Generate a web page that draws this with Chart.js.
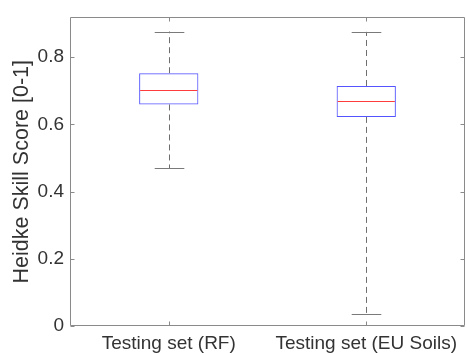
<!DOCTYPE html>
<html>
<head>
<meta charset="utf-8">
<script src="https://cdn.jsdelivr.net/npm/chart.js@4.4.0/dist/chart.umd.min.js"></script>
<style>
html,body{margin:0;padding:0;background:#fff;}
canvas{display:block;}
</style>
</head>
<body>
<canvas id="c" width="467" height="353"></canvas>
<script>
const categories = ['Testing set (RF)', 'Testing set (EU Soils)'];
const whiskerLow  = [0.470, 0.037];
const q1          = [0.659, 0.622];
const median      = [0.701, 0.668];
const q3          = [0.752, 0.714];
const whiskerHigh = [0.876, 0.875];
const yTicks      = [0, 0.2, 0.4, 0.6, 0.8];
const yTitle      = 'Heidke Skill Score [0-1]';

const FONT = "'Liberation Sans', Arial, Helvetica, sans-serif";
const FS = 19;
const FS_TITLE = 21.5;
const TEXT = '#333333';
const FRAME = '#8a8a8a';

const boxplotPlugin = {
  id: 'boxplot',
  afterDatasetsDraw(chart) {
    const ctx = chart.ctx, y = chart.scales.y;
    const meta = chart.getDatasetMeta(0);
    ctx.save();
    categories.forEach((c, i) => {
      const bar = meta.data[i];
      const cx = Math.round(bar.x) + 0.5, half = bar.width / 2, capHalf = half / 2;
      const yHi = y.getPixelForValue(whiskerHigh[i]);
      const yLo = y.getPixelForValue(whiskerLow[i]);
      const yQ1 = y.getPixelForValue(q1[i]);
      const yQ3 = y.getPixelForValue(q3[i]);
      const yMed = y.getPixelForValue(median[i]);
      ctx.strokeStyle = '#6e6e6e';
      ctx.lineWidth = 1;
      ctx.setLineDash([6, 4]);
      ctx.beginPath();
      ctx.moveTo(cx, yQ3); ctx.lineTo(cx, yHi);
      ctx.moveTo(cx, yQ1); ctx.lineTo(cx, yLo);
      ctx.stroke();
      ctx.setLineDash([]);
      ctx.strokeStyle = '#7a7a7a';
      ctx.beginPath();
      ctx.moveTo(cx - capHalf, Math.round(yHi) + 0.5); ctx.lineTo(cx + capHalf, Math.round(yHi) + 0.5);
      ctx.moveTo(cx - capHalf, Math.round(yLo) + 0.5); ctx.lineTo(cx + capHalf, Math.round(yLo) + 0.5);
      ctx.stroke();
      ctx.strokeStyle = 'rgb(255,60,60)';
      ctx.beginPath();
      ctx.moveTo(bar.x - half + 1, Math.round(yMed) + 0.5); ctx.lineTo(bar.x + half - 1, Math.round(yMed) + 0.5);
      ctx.stroke();
    });
    ctx.restore();
  },
  afterDraw(chart) {
    const ctx = chart.ctx, a = chart.chartArea, x = chart.scales.x, y = chart.scales.y;
    const L = Math.round(a.left) + 0.5, R = Math.round(a.right) - 0.5;
    const T = Math.round(a.top) + 0.5, B = Math.round(a.bottom) - 0.5;
    ctx.save();
    ctx.strokeStyle = FRAME;
    ctx.lineWidth = 1;
    ctx.beginPath();
    ctx.rect(L, T, R - L, B - T);
    const tl = 4;
    y.ticks.forEach((t, i) => {
      const py = Math.round(y.getPixelForTick(i)) + 0.5;
      ctx.moveTo(L, py); ctx.lineTo(L + tl, py);
      ctx.moveTo(R, py); ctx.lineTo(R - tl, py);
    });
    x.ticks.forEach((t, i) => {
      const px = Math.round(x.getPixelForTick(i)) + 0.5;
      ctx.moveTo(px, B); ctx.lineTo(px, B - tl);
      ctx.moveTo(px, T); ctx.lineTo(px, T + tl);
    });
    ctx.stroke();
    ctx.restore();
  }
};

new Chart(document.getElementById('c'), {
  type: 'bar',
  data: {
    labels: categories,
    datasets: [{
      data: categories.map((c, i) => [q1[i], q3[i]]),
      backgroundColor: 'rgba(0,0,0,0)',
      borderColor: 'rgba(40,40,255,0.8)',
      borderWidth: 1,
      borderSkipped: false,
      categoryPercentage: 1,
      barPercentage: 0.3
    }]
  },
  options: {
    responsive: false,
    animation: false,
    events: [],
    layout: { padding: { left: 0, right: 2, top: 14, bottom: 0 } },
    plugins: { legend: { display: false }, tooltip: { enabled: false } },
    scales: {
      x: {
        grid: { display: false, drawTicks: false },
        border: { display: false },
        ticks: { color: TEXT, font: { family: FONT, size: FS }, padding: 6, maxRotation: 0, autoSkip: false },
        afterFit(s) { s.height = 27; }
      },
      y: {
        min: 0, max: 0.918,
        grid: { display: false, drawTicks: false },
        border: { display: false },
        afterBuildTicks(s) { s.ticks = yTicks.map(v => ({ value: v })); },
        ticks: {
          color: TEXT, font: { family: FONT, size: FS }, padding: 6,
          callback: v => String(Math.round(v * 10) / 10)
        },
        title: { display: true, text: yTitle, color: TEXT, font: { family: FONT, size: FS_TITLE }, padding: { top: 9, bottom: 0 } },
        afterFit(s) { s.width = 70; }
      }
    }
  },
  plugins: [boxplotPlugin]
});
</script>
</body>
</html>
